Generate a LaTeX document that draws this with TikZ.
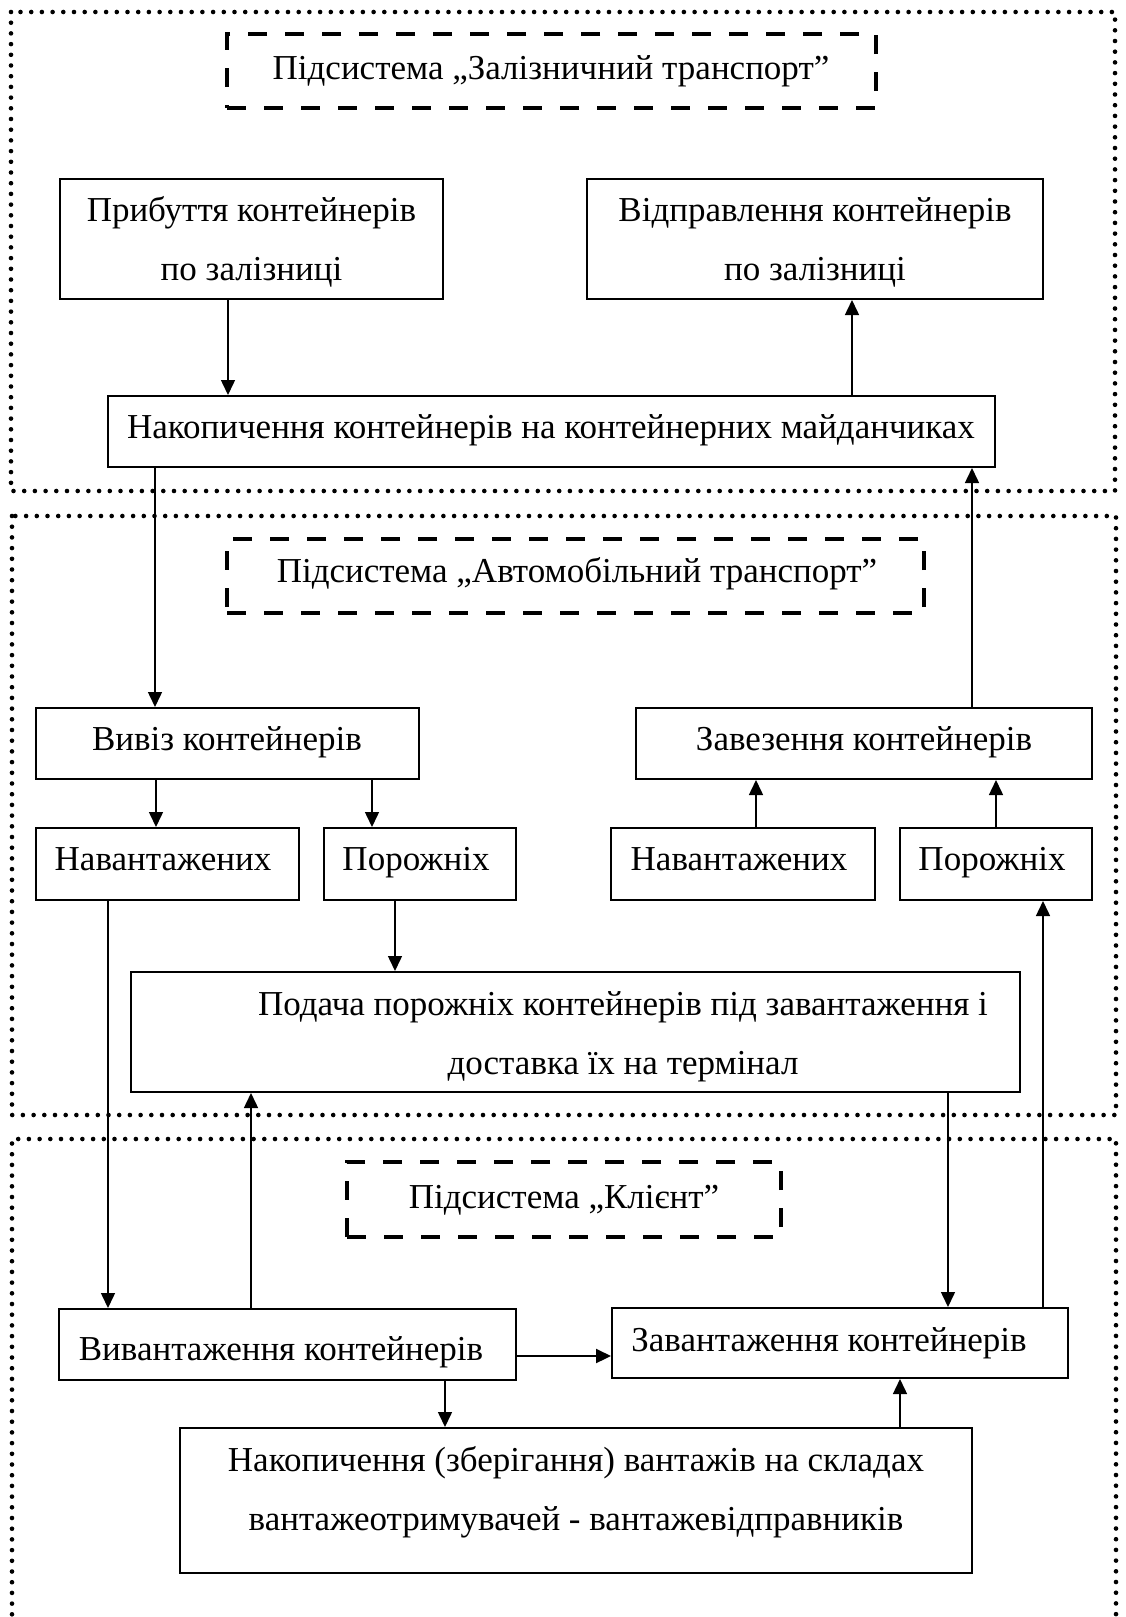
\documentclass[tikz,border=0pt]{standalone}
\usepackage{fontspec}
\setmainfont{Liberation Serif}
\usetikzlibrary{arrows.meta}
\begin{document}
\begin{tikzpicture}[x=1pt,y=1pt,
  box/.style={draw, line width=2pt, inner sep=0pt},
  lbl/.style={font=\fontsize{35}{59}\selectfont, inner sep=0pt, anchor=base, align=center},
  arr/.style={line width=1.5pt, -{Triangle[width=14pt,length=15pt]}},
  dotline/.style={line width=4.6pt, line cap=round, dash pattern=on 0pt off 10.7pt},
  titlebox/.style={draw, line width=4.5pt, dash pattern=on 19pt off 18pt, inner sep=0pt}]
\useasboundingbox (0,0) rectangle (1126,-1617);
% regions
\draw[dotline] (11,-12) rectangle (1115,-491);
\draw[dotline] (12,-516) rectangle (1116,-1115);
\draw[dotline] (12,-1625) -- (12,-1139) -- (1116,-1139) -- (1116,-1625);
% title boxes
\node[titlebox, minimum width=649pt, minimum height=74pt] (t1) at (551.5,-71) {};
\node[titlebox, minimum width=697pt, minimum height=74pt] (t2) at (575.5,-576) {};
\node[titlebox, minimum width=434pt, minimum height=75pt] (t3) at (564,-1199.5) {};
\node[lbl] (t1t) at (551,-79) {Підсистема „Залізничний транспорт”};
\node[lbl] (t2t) at (577,-582) {Підсистема „Автомобільний транспорт”};
\node[lbl] (t3t) at (564,-1208) {Підсистема „Клієнт”};
% boxes
\node[box, minimum width=383pt, minimum height=120pt] (prib) at (251.5,-239) {};
\node[box, minimum width=456pt, minimum height=120pt] (vidp) at (815,-239) {};
\node[box, minimum width=887pt, minimum height=71pt] (nak) at (551.5,-431.5) {};
\node[box, minimum width=383pt, minimum height=71pt] (viviz) at (227.5,-743.5) {};
\node[box, minimum width=456pt, minimum height=71pt] (zavez) at (864,-743.5) {};
\node[box, minimum width=263pt, minimum height=72pt] (navl) at (167.5,-864) {};
\node[box, minimum width=192pt, minimum height=72pt] (porl) at (420,-864) {};
\node[box, minimum width=264pt, minimum height=72pt] (navr) at (743,-864) {};
\node[box, minimum width=192pt, minimum height=72pt] (porr) at (996,-864) {};
\node[box, minimum width=889pt, minimum height=120pt] (pod) at (575.5,-1032) {};
\node[box, minimum width=457pt, minimum height=71pt] (vyvan) at (287.5,-1344.5) {};
\node[box, minimum width=456pt, minimum height=70pt] (zavan) at (840,-1343) {};
\node[box, minimum width=792pt, minimum height=145pt] (nakz) at (576,-1500.5) {};
% texts (multi-line: base anchor is the last line)
\node[lbl] (pribt) at (251.5,-280) {Прибуття контейнерів\\по залізниці};
\node[lbl] (vidpt) at (815,-280) {Відправлення контейнерів\\по залізниці};
\node[lbl] (nakt) at (551,-438) {Накопичення контейнерів на контейнерних майданчиках};
\node[lbl] (vivizt) at (227,-750) {Вивіз контейнерів};
\node[lbl] (zavezt) at (864,-750) {Завезення контейнерів};
\node[lbl] (navlt) at (163,-870) {Навантажених};
\node[lbl] (porlt) at (416,-870) {Порожніх};
\node[lbl] (navrt) at (739,-870) {Навантажених};
\node[lbl] (porrt) at (992,-870) {Порожніх};
\node[lbl] (podt) at (623,-1074) {Подача порожніх контейнерів під завантаження і\\доставка їх на термінал};
\node[lbl] (vyvant) at (281,-1360) {Вивантаження контейнерів};
\node[lbl] (zavant) at (829,-1351) {Завантаження контейнерів};
\node[lbl] (nakzt) at (576,-1530) {Накопичення (зберігання) вантажів на складах\\вантажеотримувачей - вантажевідправників};
% connectors
\draw[arr] ([xshift=-23.5]prib.south) -- ([xshift=-323.5]nak.north);
\draw[arr] ([xshift=300.5]nak.north) -- ([xshift=37]vidp.south);
\draw[arr] ([xshift=-396.5]nak.south) -- ([xshift=-72.5]viviz.north);
\draw[arr] ([xshift=108]zavez.north) -- ([xshift=420.5]nak.south);
\draw[arr] ([xshift=-71.5]viviz.south) -- ([xshift=-11.5]navl.north);
\draw[arr] ([xshift=144.5]viviz.south) -- ([xshift=-48]porl.north);
\draw[arr] ([xshift=13]navr.north) -- ([xshift=-108]zavez.south);
\draw[arr] (porr.north) -- ([xshift=132]zavez.south);
\draw[arr] ([xshift=-25]porl.south) -- ([xshift=-180.5]pod.north);
\draw[arr] ([xshift=-59.5]navl.south) -- ([xshift=-179.5]vyvan.north);
\draw[arr] ([xshift=-36.5]vyvan.north) -- ([xshift=-324.5]pod.south);
\draw[arr] ([xshift=372.5]pod.south) -- ([xshift=108]zavan.north);
\draw[arr] ([xshift=203]zavan.north) -- ([xshift=47]porr.south);
\draw[arr, line width=2.2pt] ([yshift=-11.5]vyvan.east) -- ([yshift=-13]zavan.west);
\draw[arr] ([xshift=157.5]vyvan.south) -- ([xshift=-131]nakz.north);
\draw[arr] ([xshift=324]nakz.north) -- ([xshift=60]zavan.south);
\end{tikzpicture}
\end{document}
